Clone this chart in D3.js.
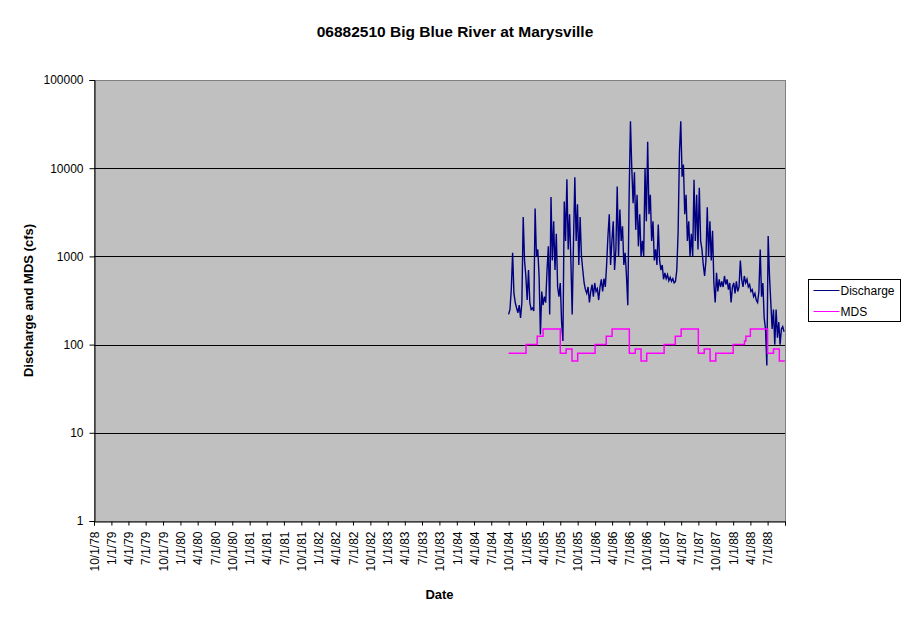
<!DOCTYPE html>
<html>
<head>
<meta charset="utf-8">
<script src="https://cdn.jsdelivr.net/npm/d3@7"></script>
<style>
  body { margin: 0; background: #fff; }
  text { font-family: "Liberation Sans", Arial, sans-serif; }
</style>
</head>
<body>
<div id="chart"></div>
<script>
/* Big Blue River at Marysville: daily discharge vs monthly MDS, log scale */

const title = "06882510 Big Blue River at Marysville";

// discharge, one reading per week starting 10/1/84
const dischargeStart = "1984-10-01";
const dischargeStepDays = 7;
const dischargeValues = [
  220, 250, 420, 1100, 380, 300, 260, 230, 280, 200,
  300, 2800, 900, 600, 320, 700, 300, 250, 260, 240,
  3500, 1000, 1200, 600, 130, 400, 280, 350, 300, 700,
  1300, 220, 4700, 900, 2500, 700, 1800, 450, 350, 500,
  180, 110, 4200, 1500, 7500, 1200, 3000, 900, 220, 1500,
  7900, 1500, 3900, 800, 2800, 1000, 700, 500, 420, 380,
  450, 300, 400, 480, 350, 500, 400, 430, 320, 450,
  550, 400, 560, 450, 800, 1700, 3000, 800, 1500, 2500,
  700, 1200, 6200, 1000, 3400, 1500, 2200, 800, 1100, 600,
  280, 5000, 34000, 10000, 4000, 9000, 2000, 5000, 1300, 3000,
  1000, 1500, 1000, 10000, 2500, 20000, 3000, 5000, 1500, 2500,
  900, 1200, 800, 2300, 900, 700, 800, 550, 650, 560,
  620, 530, 580, 520, 560, 500, 520, 700, 1900, 15000,
  34000, 8000, 11000, 3000, 5000, 1500, 2500, 1000, 1800, 1000,
  7400, 1500, 5000, 1200, 6000, 1500, 1200, 800, 600, 900,
  3600, 1000, 2500, 900, 1950, 500, 300, 650, 400, 550,
  450, 520, 450, 600, 480, 550, 420, 500, 300, 450,
  500, 380, 520, 400, 450, 900, 550, 450, 600, 500,
  550, 450, 480, 400, 420, 350, 380, 320, 300, 400,
  1200, 350, 500, 200, 150, 58, 1700, 600, 300, 150,
  250, 100, 250, 120, 180, 100, 150, 160, 140
];

// MDS step changes (value holds until next date)
const mdsDates = [
  "1984-10-01", "1985-01-01", "1985-03-01", "1985-04-01", "1985-07-01", "1985-08-01", "1985-09-01",
  "1985-10-01", "1986-01-01", "1986-03-01", "1986-04-01", "1986-07-01", "1986-08-01", "1986-09-01",
  "1986-10-01", "1987-01-01", "1987-03-01", "1987-04-01", "1987-07-01", "1987-08-01", "1987-09-01",
  "1987-10-01", "1988-01-01", "1988-03-01", "1988-03-08", "1988-04-01", "1988-07-01", "1988-08-01",
  "1988-09-01", "1988-09-30"
];
const mdsValues = [
  80, 100, 124, 150, 80, 89, 65,
  80, 100, 124, 150, 80, 89, 65,
  80, 100, 124, 150, 80, 89, 65,
  80, 100, 110, 124, 150, 80, 89,
  65, 65
];

const yTicks = [1, 10, 100, 1000, 10000, 100000];
const xStart = "1978-10-01";
const xEnd = "1988-10-01";

const seriesNames = ["Discharge", "MDS"];
const seriesColors = ["#000080", "#FF00FF"];

const W = 911, H = 623;
const pLeft = 94, pTop = 80, pRight = 785, pBottom = 521;

const parse = d3.timeParse("%Y-%m-%d");

const discharge = dischargeValues.map((v, i) => ({
  date: d3.timeDay.offset(parse(dischargeStart), i * dischargeStepDays),
  value: v
}));
const mds = mdsDates.map((d, i) => ({ date: parse(d), value: mdsValues[i] }));

const x = d3.scaleTime().domain([parse(xStart), parse(xEnd)]).range([pLeft, pRight]);
const y = d3.scaleLog().domain([1, 100000]).range([pBottom, pTop]);

const svg = d3.select("#chart").append("svg")
  .attr("width", W)
  .attr("height", H);

// plot area
svg.append("rect")
  .attr("x", pLeft + 0.5).attr("y", pTop + 0.5)
  .attr("width", pRight - pLeft).attr("height", pBottom - pTop)
  .attr("fill", "#C0C0C0")
  .attr("stroke", "#808080")
  .attr("stroke-width", 1);

// gridlines
svg.append("g")
  .selectAll("line")
  .data(yTicks.slice(1, -1))
  .join("line")
  .attr("x1", pLeft).attr("x2", pRight)
  .attr("y1", d => Math.round(y(d)) + 0.5)
  .attr("y2", d => Math.round(y(d)) + 0.5)
  .attr("stroke", "#000")
  .attr("stroke-width", 1);

// lines
const line = d3.line()
  .x(d => x(d.date))
  .y(d => y(d.value));

svg.append("path")
  .datum(discharge)
  .attr("fill", "none")
  .attr("stroke", seriesColors[0])
  .attr("stroke-width", 1.4)
  .attr("d", line);

svg.append("path")
  .datum(mds)
  .attr("fill", "none")
  .attr("stroke", seriesColors[1])
  .attr("stroke-width", 1.5)
  .attr("d", line.curve(d3.curveStepAfter));

// y axis
const yAxis = svg.append("g")
  .attr("transform", `translate(${pLeft + 0.5},0)`)
  .call(d3.axisLeft(y).tickValues(yTicks).tickFormat(d3.format("d")).tickSize(5).tickPadding(6));
yAxis.select(".domain").attr("stroke", "#000");
yAxis.selectAll("text")
  .attr("font-size", 12)
  .attr("font-family", "Liberation Sans, Arial, sans-serif")
  .attr("fill", "#000");

// x axis, quarterly ticks
const fmt = d3.timeFormat("%-m/%-d/%y");
const quarters = d3.timeMonth.every(3).range(parse(xStart), d3.timeDay.offset(parse(xEnd), 1));
const xAxis = svg.append("g")
  .attr("transform", `translate(0,${pBottom + 0.5})`)
  .call(d3.axisBottom(x)
    .tickValues(quarters)
    .tickFormat(d => +d === +parse(xEnd) ? "" : fmt(d))
    .tickSize(4));
xAxis.select(".domain").attr("stroke", "#000");
xAxis.selectAll("text")
  .attr("font-size", 12)
  .attr("font-family", "Liberation Sans, Arial, sans-serif")
  .attr("fill", "#000")
  .attr("transform", "rotate(-90)")
  .attr("text-anchor", "end")
  .attr("x", -10)
  .attr("y", 0)
  .attr("dy", "0.35em");

// titles
svg.append("text")
  .attr("x", 455)
  .attr("y", 37)
  .attr("text-anchor", "middle")
  .style("font-size", "15.5px")
  .style("font-weight", "bold")
  .text(title);

svg.append("text")
  .attr("x", (pLeft + pRight) / 2)
  .attr("y", 599)
  .attr("text-anchor", "middle")
  .style("font-size", "13px")
  .style("font-weight", "bold")
  .text("Date");

svg.append("text")
  .attr("transform", `translate(28,${(pTop + pBottom) / 2}) rotate(-90)`)
  .attr("text-anchor", "middle")
  .attr("dy", "0.35em")
  .style("font-size", "13px")
  .style("font-weight", "bold")
  .text("Discharge and MDS (cfs)");

// legend
const lg = svg.append("g").attr("transform", "translate(808.5,279.5)");
lg.append("rect")
  .attr("width", 92).attr("height", 42)
  .attr("fill", "#fff")
  .attr("stroke", "#000");
seriesNames.forEach((name, i) => {
  const ly = 11 + i * 21;
  lg.append("line")
    .attr("x1", 5).attr("x2", 31)
    .attr("y1", ly).attr("y2", ly)
    .attr("stroke", seriesColors[i])
    .attr("stroke-width", 1);
  lg.append("text")
    .attr("x", 32)
    .attr("y", ly)
    .attr("dy", "0.35em")
    .style("font-size", "12px")
    .text(name);
});
</script>
</body>
</html>
